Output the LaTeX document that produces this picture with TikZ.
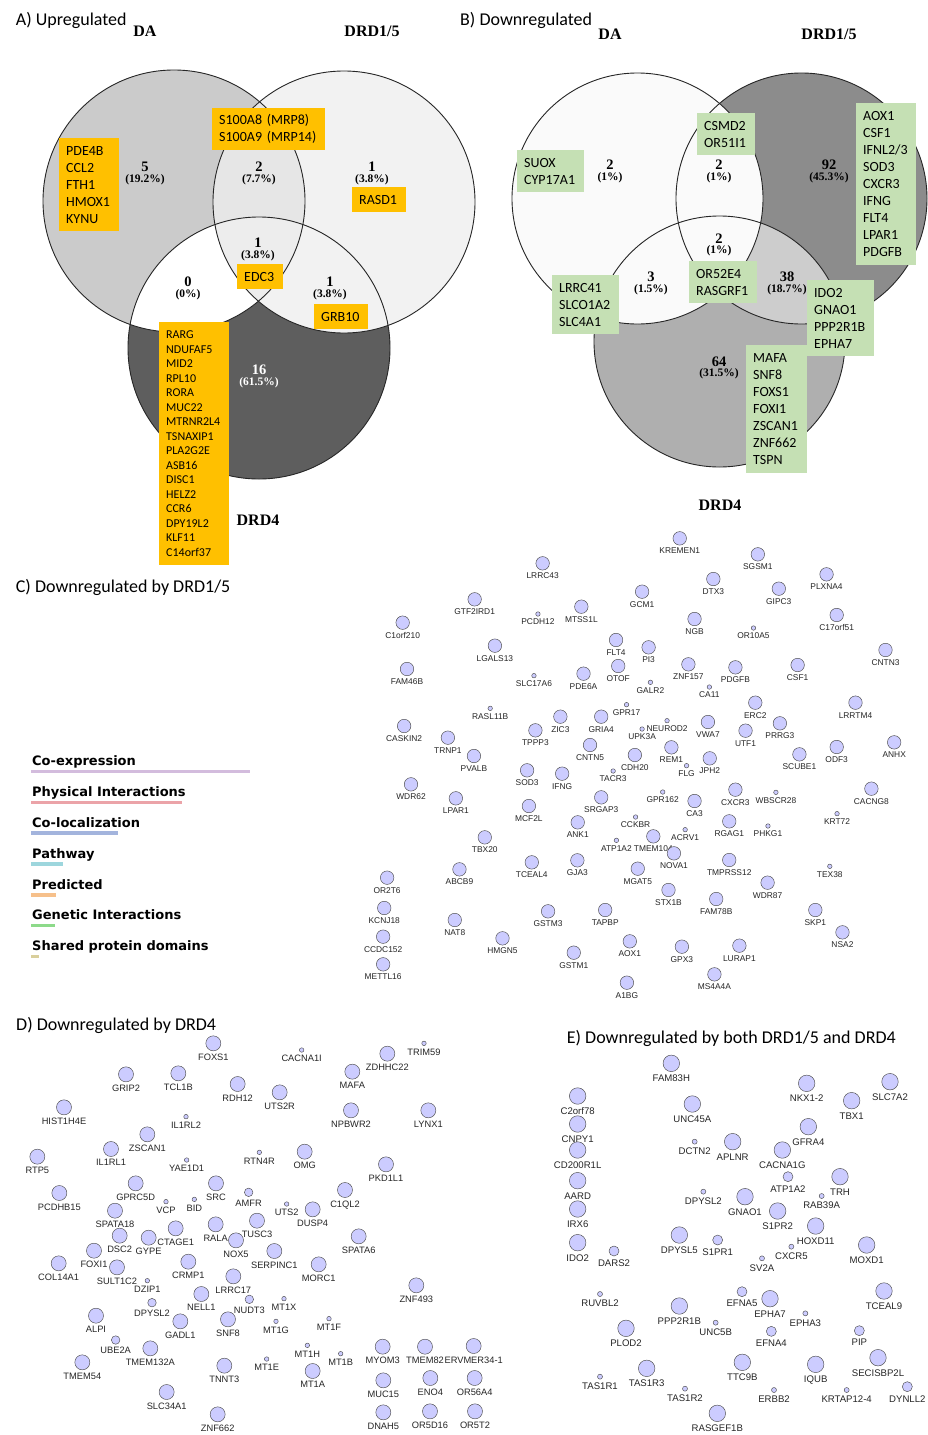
\documentclass[tikz,border=0pt]{standalone}
\usepackage{fontspec}
\setmainfont{Carlito}
\newfontfamily\tmsfont{Liberation Serif}
\newfontfamily\arlfont{Liberation Sans}
\newfontfamily\dvsfont{DejaVu Sans}
\definecolor{obox}{HTML}{FFC000}
\definecolor{gbox}{HTML}{C5E0B4}
\definecolor{nfill}{HTML}{CCCCFF}
\definecolor{aDA}{HTML}{CBCBCB}
\definecolor{aD15}{HTML}{F2F2F2}
\definecolor{aDA15}{HTML}{E6E6E6}
\definecolor{aTri}{HTML}{EDEDED}
\definecolor{aD4}{HTML}{5E5E5E}
\definecolor{bLt}{HTML}{FAFAFA}
\definecolor{bD15}{HTML}{8C8C8C}
\definecolor{bD4}{HTML}{AFAFAF}
\definecolor{bD154}{HTML}{CDCDCD}
\definecolor{lgA}{HTML}{D3BCDD}
\definecolor{lgB}{HTML}{EBA3A8}
\definecolor{lgC}{HTML}{A3B4DD}
\definecolor{lgD}{HTML}{9DD6DD}
\definecolor{lgE}{HTML}{F6C08B}
\definecolor{lgF}{HTML}{8DDA8A}
\definecolor{lgG}{HTML}{D9CF9C}
\tikzset{
 vcirc/.style={draw=black!85, line width=0.9pt},
 vnum/.style={font=\tmsfont\bfseries\fontsize{14.5}{16}\selectfont, inner sep=0pt},
 vpct/.style={font=\tmsfont\bfseries\fontsize{11.5}{13}\selectfont, inner sep=0pt},
 vhead/.style={font=\tmsfont\bfseries\fontsize{16}{18}\selectfont, inner sep=0pt},
 ptitle/.style={font=\fontsize{18}{21}\selectfont, inner sep=0pt, anchor=base west},
 gbx14/.style={font=\fontsize{14}{17}\selectfont, inner xsep=7pt, inner ysep=0pt, anchor=north west, align=left},
 gbx12/.style={font=\fontsize{12}{14.5}\selectfont, inner xsep=7pt, inner ysep=0pt, anchor=north west, align=left},
 lgtext/.style={font=\dvsfont\bfseries\fontsize{13}{15}\selectfont, inner sep=0pt, anchor=base west},
 gnode base/.style={circle, draw=black!70, line width=0.45pt, fill=nfill, inner sep=0pt},
 gcB/.style={gnode base, minimum size=13.5pt}, gcS/.style={gnode base, minimum size=4.5pt},
 gdB/.style={gnode base, minimum size=15pt}, gdM/.style={gnode base, minimum size=8.5pt}, gdS/.style={gnode base, minimum size=4.5pt},
 geB/.style={gnode base, minimum size=16.5pt}, geM/.style={gnode base, minimum size=10pt}, geS/.style={gnode base, minimum size=5pt},
 labc/.style={font=\arlfont\fontsize{8.4}{10}\selectfont, inner sep=0pt, label distance=2.4pt, text=black!85},
 labd/.style={font=\arlfont\fontsize{9.3}{11}\selectfont, inner sep=0pt, label distance=2.6pt, text=black!85},
 labe/.style={font=\arlfont\fontsize{9.6}{11}\selectfont, inner sep=0pt, label distance=3.2pt, text=black!85},
}
\newcommand\setzoom[4]{\def\zox{#1}\def\zoy{#2}\def\zsx{#3}\def\zsy{#4}}
\newcommand\gnode[5]{\pgfmathsetmacro\gnx{\zox+(#4)*\zsx}\pgfmathsetmacro\gny{\zoy+(#5)*\zsy}\node[g#1#2, label={[lab#1]below:#3}] (#1-#3) at (\gnx,\gny) {};}
\newcommand\genebox[8]{\node[#2, fill=#3, text width=#6pt, minimum height=#7pt] (#1) at (#4,#5) {#8};}
\begin{document}
\begin{tikzpicture}[x=1pt,y=-1pt]
\useasboundingbox (0,0) rectangle (927,1435);
\fill[white] (0,0) rectangle (927,1435);

% ---------------- Panel A ----------------
\coordinate (vA1) at (174,201);
\coordinate (vA2) at (344,202);
\coordinate (vA3) at (259,348);
\fill[aDA] (vA1) circle[radius=131pt];
\fill[aD15] (vA2) circle[radius=131pt];
\begin{scope}\clip (vA1) circle[radius=131pt]; \fill[aDA15] (vA2) circle[radius=131pt];\end{scope}
\fill[aD4] (vA3) circle[radius=131pt];
\begin{scope}\clip (vA3) circle[radius=131pt];
 \fill[white] (vA1) circle[radius=131pt];
 \fill[aD15] (vA2) circle[radius=131pt];
 \begin{scope}\clip (vA1) circle[radius=131pt]; \fill[aTri] (vA2) circle[radius=131pt];\end{scope}
\end{scope}
\draw[vcirc] (vA1) circle[radius=131pt];
\draw[vcirc] (vA2) circle[radius=131pt];
\draw[vcirc] (vA3) circle[radius=131pt];

\node[ptitle] (tA) at (15.7,25.7) {A) Upregulated};
\node[vhead] (hA1) at (145,31) {DA};
\node[vhead] (hA2) at (372,31) {DRD1/5};
\node[vhead] (hA3) at (258,520) {DRD4};

\node[vnum] (an1) at (145,167) {5};   \node[vpct] (ap1) at (145,180) {(19.2\%)};
\node[vnum] (an2) at (259,167) {2};   \node[vpct] (ap2) at (259,180) {(7.7\%)};
\node[vnum] (an3) at (372,167) {1};   \node[vpct] (ap3) at (372,180) {(3.8\%)};
\node[vnum] (an4) at (258,243) {1};   \node[vpct] (ap4) at (258,256) {(3.8\%)};
\node[vnum] (an5) at (188,282) {0};   \node[vpct] (ap5) at (188,295) {(0\%)};
\node[vnum] (an6) at (330,282) {1};   \node[vpct] (ap6) at (330,295) {(3.8\%)};
\node[vnum,text=white] (an7) at (259,370) {16}; \node[vpct,text=white] (ap7) at (259,383) {(61.5\%)};

\genebox{ab1}{gbx14}{obox}{59}{138}{46}{93}{PDE4B\\CCL2\\FTH1\\HMOX1\\KYNU}
\genebox{ab2}{gbx14}{obox}{212}{108}{99}{42}{S100A8 (MRP8)\\S100A9 (MRP14)}
\genebox{ab3}{gbx14}{obox}{352}{187}{40}{25}{RASD1}
\genebox{ab4}{gbx14}{obox}{237}{264}{32}{25}{EDC3}
\genebox{ab5}{gbx14}{obox}{314}{304}{40}{25}{GRB10}
\genebox{ab6}{gbx12}{obox}{159}{322}{56}{243}{RARG\\NDUFAF5\\MID2\\RPL10\\RORA\\MUC22\\MTRNR2L4\\TSNAXIP1\\PLA2G2E\\ASB16\\DISC1\\HELZ2\\CCR6\\DPY19L2\\KLF11\\C14orf37}

% ---------------- Panel B ----------------
\coordinate (vB1) at (637.5,198.5);
\coordinate (vB2) at (801.5,198.5);
\coordinate (vB3) at (719.5,341.5);
\fill[bLt] (vB1) circle[radius=125.5pt];
\fill[bD15] (vB2) circle[radius=125.5pt];
\begin{scope}\clip (vB1) circle[radius=125.5pt]; \fill[bLt] (vB2) circle[radius=125.5pt];\end{scope}
\fill[bD4] (vB3) circle[radius=125.5pt];
\begin{scope}\clip (vB3) circle[radius=125.5pt];
 \fill[bLt] (vB1) circle[radius=125.5pt];
 \fill[bD154] (vB2) circle[radius=125.5pt];
 \begin{scope}\clip (vB1) circle[radius=125.5pt]; \fill[bLt] (vB2) circle[radius=125.5pt];\end{scope}
\end{scope}
\draw[vcirc] (vB1) circle[radius=125.5pt];
\draw[vcirc] (vB2) circle[radius=125.5pt];
\draw[vcirc] (vB3) circle[radius=125.5pt];

\node[ptitle] (tB) at (460,25.7) {B) Downregulated};
\node[vhead] (hB1) at (610,34) {DA};
\node[vhead] (hB2) at (829,34) {DRD1/5};
\node[vhead] (hB3) at (720,505) {DRD4};

\node[vnum] (bn1) at (610,165) {2};  \node[vpct] (bp1) at (610,178) {(1\%)};
\node[vnum] (bn2) at (719,165) {2};  \node[vpct] (bp2) at (719,178) {(1\%)};
\node[vnum] (bn3) at (829,165) {92}; \node[vpct] (bp3) at (829,178) {(45.3\%)};
\node[vnum] (bn4) at (719,239) {2};  \node[vpct] (bp4) at (719,251) {(1\%)};
\node[vnum] (bn5) at (651,277) {3};  \node[vpct] (bp5) at (651,290) {(1.5\%)};
\node[vnum] (bn6) at (787,277) {38}; \node[vpct] (bp6) at (787,290) {(18.7\%)};
\node[vnum] (bn7) at (719,362) {64}; \node[vpct] (bp7) at (719,374) {(31.5\%)};

\genebox{bb1}{gbx14}{gbox}{517}{150}{53}{42}{SUOX\\CYP17A1}
\genebox{bb2}{gbx14}{gbox}{697}{113}{44}{42}{CSMD2\\OR51I1}
\genebox{bb3}{gbx14}{gbox}{856}{103}{46}{162}{AOX1\\CSF1\\IFNL2/3\\SOD3\\CXCR3\\IFNG\\FLT4\\LPAR1\\PDGFB}
\genebox{bb4}{gbx14}{gbox}{552}{275}{53}{59}{LRRC41\\SLCO1A2\\SLC4A1}
\genebox{bb5}{gbx14}{gbox}{689}{261}{54}{42}{OR52E4\\RASGRF1}
\genebox{bb6}{gbx14}{gbox}{807}{280}{53}{76}{IDO2\\GNAO1\\PPP2R1B\\EPHA7}
\genebox{bb7}{gbx14}{gbox}{746}{345}{47}{128}{MAFA\\SNF8\\FOXS1\\FOXI1\\ZSCAN1\\ZNF662\\TSPN}

% ---------------- Panel C ----------------
\node[ptitle] (tC) at (15.7,592.3) {C) Downregulated by DRD1/5};
\node[lgtext] (lg1) at (32,765.7) {Co-expression};
\node[lgtext] (lg2) at (32,796.6) {Physical Interactions};
\node[lgtext] (lg3) at (32,827.5) {Co-localization};
\node[lgtext] (lg4) at (32,858.3) {Pathway};
\node[lgtext] (lg5) at (32,889.1) {Predicted};
\node[lgtext] (lg6) at (32,919.9) {Genetic Interactions};
\node[lgtext] (lg7) at (32,950.7) {Shared protein domains};
\fill[lgA] (31,769.6) rectangle (250,773.2);
\fill[lgB] (31,800.5) rectangle (181.5,804.1);
\fill[lgC] (31,831.4) rectangle (117.5,835);
\fill[lgD] (31,862.2) rectangle (63,865.8);
\fill[lgE] (31,893) rectangle (56,896.6);
\fill[lgF] (31,923.8) rectangle (55,927.4);
\fill[lgG] (31,954.6) rectangle (39,958.2);

\setzoom{360}{520}{0.36166}{0.33333}
\gnode{c}{B}{KREMEN1}{884}{55}
\gnode{c}{B}{SGSM1}{1100}{103}
\gnode{c}{B}{LRRC43}{505}{130}
\gnode{c}{B}{PLXNA4}{1290}{163}
\gnode{c}{B}{DTX3}{977}{177}
\gnode{c}{B}{GCM1}{780}{215}
\gnode{c}{B}{GIPC3}{1158}{206}
\gnode{c}{B}{GTF2IRD1}{317}{238}
\gnode{c}{B}{MTSS1L}{612}{260}
\gnode{c}{S}{PCDH12}{492}{282}
\gnode{c}{B}{C1orf210}{118}{308}
\gnode{c}{B}{NGB}{925}{297}
\gnode{c}{S}{OR10A5}{1088}{324}
\gnode{c}{B}{C17orf51}{1318}{285}
\gnode{c}{B}{LGALS13}{373}{377}
\gnode{c}{B}{FLT4}{708}{360}
\gnode{c}{B}{PI3}{798}{382}
\gnode{c}{B}{CNTN3}{1453}{390}
\gnode{c}{B}{FAM46B}{130}{447}
\gnode{c}{S}{SLC17A6}{481}{467}
\gnode{c}{B}{OTOF}{714}{438}
\gnode{c}{B}{PDE6A}{618}{461}
\gnode{c}{B}{ZNF157}{908}{433}
\gnode{c}{B}{PDGFB}{1038}{442}
\gnode{c}{B}{CSF1}{1210}{435}
\gnode{c}{S}{GALR2}{803}{487}
\gnode{c}{S}{CA11}{966}{501}

\setzoom{360}{700}{0.36166}{0.33333}
\gnode{c}{S}{RASL11B}{360}{25}
\gnode{c}{S}{GPR17}{737}{14}
\gnode{c}{B}{ERC2}{1093}{8}
\gnode{c}{B}{LRRTM4}{1370}{8}
\gnode{c}{B}{ZIC3}{554}{50}
\gnode{c}{B}{GRIA4}{667}{50}
\gnode{c}{S}{NEUROD2}{849}{62}
\gnode{c}{S}{UPK3A}{780}{87}
\gnode{c}{B}{CASKIN2}{122}{78}
\gnode{c}{B}{VWA7}{962}{66}
\gnode{c}{B}{PRRG3}{1161}{70}
\gnode{c}{B}{UTF1}{1066}{92}
\gnode{c}{B}{TPPP3}{485}{91}
\gnode{c}{B}{TRNP1}{243}{113}
\gnode{c}{B}{ANHX}{1477}{127}
\gnode{c}{B}{CNTN5}{636}{135}
\gnode{c}{B}{REM1}{861}{142}
\gnode{c}{B}{ODF3}{1318}{141}
\gnode{c}{B}{PVALB}{315}{168}
\gnode{c}{B}{CDH20}{760}{165}
\gnode{c}{B}{SCUBE1}{1215}{163}
\gnode{c}{B}{JPH2}{967}{175}
\gnode{c}{S}{FLG}{903}{197}
\gnode{c}{B}{SOD3}{462}{211}
\gnode{c}{B}{IFNG}{559}{221}
\gnode{c}{S}{TACR3}{700}{213}
\gnode{c}{B}{WDR62}{141}{253}
\gnode{c}{B}{CXCR3}{1038}{269}
\gnode{c}{S}{WBSCR28}{1150}{277}
\gnode{c}{B}{CACNG8}{1414}{266}
\gnode{c}{S}{GPR162}{837}{276}
\gnode{c}{B}{CA3}{925}{303}
\gnode{c}{B}{LPAR1}{265}{295}
\gnode{c}{B}{SRGAP3}{667}{292}
\gnode{c}{B}{MCF2L}{467}{318}
\gnode{c}{S}{CCKBR}{762}{351}
\gnode{c}{S}{KRT72}{1319}{341}
\gnode{c}{B}{RGAG1}{1021}{364}
\gnode{c}{S}{PHKG1}{1128}{378}
\gnode{c}{B}{ANK1}{602}{367}
\gnode{c}{S}{ACRV1}{899}{389}
\gnode{c}{B}{TBX20}{345}{412}
\gnode{c}{B}{TMEM104}{811}{409}
\gnode{c}{S}{ATP1A2}{709}{421}
\gnode{c}{B}{NOVA1}{868}{460}
\gnode{c}{B}{GJA3}{601}{481}
\gnode{c}{B}{TCEAL4}{475}{487}
\gnode{c}{B}{TMPRSS12}{1021}{480}
\gnode{c}{B}{MGAT5}{768}{506}
\gnode{c}{B}{ABCB9}{275}{508}
\gnode{c}{S}{TEX38}{1299}{499}
\gnode{c}{B}{OR2T6}{75}{533}
\gnode{c}{B}{WDR87}{1127}{548}
\gnode{c}{B}{STX1B}{853}{570}
\gnode{c}{B}{FAM78B}{985}{597}
\gnode{c}{B}{KCNJ18}{67}{624}
\gnode{c}{B}{SKP1}{1259}{630}
\gnode{c}{B}{GSTM3}{520}{634}
\gnode{c}{B}{TAPBP}{678}{630}
\gnode{c}{B}{NAT8}{262}{660}
\gnode{c}{B}{NSA2}{1334}{697}
\gnode{c}{B}{CCDC152}{64}{710}
\gnode{c}{B}{HMGN5}{394}{715}
\gnode{c}{B}{AOX1}{746}{724}
\gnode{c}{B}{LURAP1}{1049}{737}
\gnode{c}{B}{GPX3}{890}{740}
\gnode{c}{B}{GSTM1}{591}{758}
\gnode{c}{B}{METTL16}{64}{793}
\gnode{c}{B}{MS4A4A}{980}{823}
\gnode{c}{B}{A1BG}{738}{848}

% ---------------- Panel D ----------------
\node[ptitle] (tD) at (16,1030.7) {D) Downregulated by DRD4};
\setzoom{0}{1010}{0.33333}{0.33333}
\gnode{d}{B}{FOXS1}{640}{100}
\gnode{d}{S}{CACNA1I}{905}{120}
\gnode{d}{S}{TRIM59}{1272}{100}
\gnode{d}{B}{ZDHHC22}{1162}{131}
\gnode{d}{B}{MAFA}{1057}{185}
\gnode{d}{B}{GRIP2}{378}{193}
\gnode{d}{B}{TCL1B}{535}{190}
\gnode{d}{B}{RDH12}{713}{222}
\gnode{d}{B}{UTS2R}{839}{247}
\gnode{d}{B}{HIST1H4E}{192}{292}
\gnode{d}{B}{NPBWR2}{1053}{301}
\gnode{d}{B}{LYNX1}{1285}{301}
\gnode{d}{S}{IL1RL2}{558}{320}
\gnode{d}{B}{ZSCAN1}{442}{373}
\gnode{d}{B}{IL1RL1}{333}{417}
\gnode{d}{B}{RTP5}{112}{440}
\gnode{d}{S}{RTN4R}{778}{427}
\gnode{d}{B}{OMG}{914}{425}
\gnode{d}{S}{YAE1D1}{560}{450}
\gnode{d}{B}{PKD1L1}{1158}{463}
\gnode{d}{B}{GPRC5D}{407}{520}
\gnode{d}{B}{SRC}{648}{520}
\gnode{d}{M}{AMFR}{746}{547}
\gnode{d}{B}{C1QL2}{1035}{540}
\gnode{d}{B}{PCDHB15}{178}{549}
\gnode{d}{S}{VCP}{498}{575}
\gnode{d}{S}{BID}{583}{568}
\setzoom{0}{1200}{0.33333}{0.33333}
\gnode{d}{S}{UTS2}{860}{12}
\gnode{d}{B}{SPATA18}{345}{32}
\gnode{d}{B}{DUSP4}{938}{28}
\gnode{d}{B}{RALA}{647}{73}
\gnode{d}{B}{TUSC3}{771}{62}
\gnode{d}{B}{NOX5}{708}{121}
\gnode{d}{B}{CTAGE1}{527}{85}
\gnode{d}{B}{DSC2}{359}{107}
\gnode{d}{B}{GYPE}{446}{113}
\gnode{d}{B}{SPATA6}{1076}{109}
\gnode{d}{B}{SERPINC1}{823}{153}
\gnode{d}{B}{FOXI1}{282}{152}
\gnode{d}{B}{COL14A1}{176}{190}
\gnode{d}{B}{SULT1C2}{351}{202}
\gnode{d}{B}{CRMP1}{565}{185}
\gnode{d}{B}{MORC1}{956}{193}
\gnode{d}{S}{DZIP1}{442}{242}
\gnode{d}{B}{LRRC17}{700}{229}
\gnode{d}{B}{ZNF493}{1249}{256}
\gnode{d}{B}{NELL1}{604}{282}
\gnode{d}{M}{NUDT3}{748}{298}
\gnode{d}{S}{MT1X}{852}{296}
\gnode{d}{M}{DPYSL2}{456}{308}
\gnode{d}{B}{ALPI}{288}{347}
\gnode{d}{B}{GADL1}{541}{364}
\gnode{d}{B}{SNF8}{684}{358}
\gnode{d}{S}{MT1G}{828}{364}
\gnode{d}{S}{MT1F}{987}{356}
\gnode{d}{M}{UBE2A}{347}{420}
\gnode{d}{B}{TMEM132A}{451}{445}
\gnode{d}{S}{MT1H}{922}{436}
\gnode{d}{S}{MT1B}{1022}{461}
\gnode{d}{B}{MYOM3}{1148}{440}
\gnode{d}{B}{TMEM82}{1275}{440}
\gnode{d}{B}{ERVMER34-1}{1421}{438}
\gnode{d}{B}{TMEM54}{247}{487}
\gnode{d}{B}{TNNT3}{673}{497}
\gnode{d}{S}{MT1E}{800}{477}
\gnode{d}{B}{MT1A}{938}{513}
\gnode{d}{B}{MUC15}{1150}{541}
\gnode{d}{B}{ENO4}{1291}{534}
\gnode{d}{B}{OR56A4}{1424}{534}
\gnode{d}{B}{SLC34A1}{500}{576}
\gnode{d}{B}{ZNF662}{653}{643}
\gnode{d}{B}{DNAH5}{1150}{637}
\gnode{d}{B}{OR5D16}{1290}{634}
\gnode{d}{B}{OR5T2}{1425}{634}

% ---------------- Panel E ----------------
\node[ptitle] (tE) at (566.7,1043.3) {E) Downregulated by both DRD1/5 and DRD4};
\setzoom{550}{1020}{0.33333}{0.33333}
\gnode{e}{B}{FAM83H}{364}{130}
\gnode{e}{B}{NKX1-2}{770}{190}
\gnode{e}{B}{SLC7A2}{1020}{185}
\gnode{e}{B}{TBX1}{905}{242}
\gnode{e}{B}{C2orf78}{83}{228}
\gnode{e}{B}{UNC45A}{427}{252}
\gnode{e}{B}{CNPY1}{83}{312}
\gnode{e}{B}{GFRA4}{775}{320}
\gnode{e}{S}{DCTN2}{434}{365}
\gnode{e}{B}{APLNR}{548}{365}
\gnode{e}{B}{CD200R1L}{83}{390}
\gnode{e}{B}{CACNA1G}{697}{390}
\gnode{e}{M}{ATP1A2}{714}{470}
\gnode{e}{B}{TRH}{870}{470}
\gnode{e}{B}{AARD}{83}{482}
\gnode{e}{S}{DPYSL2}{460}{515}
\gnode{e}{B}{GNAO1}{585}{530}
\gnode{e}{S}{RAB39A}{815}{528}
\gnode{e}{B}{S1PR2}{683}{573}
\gnode{e}{B}{IRX6}{83}{567}
\setzoom{550}{1220}{0.33333}{0.33333}
\gnode{e}{B}{HOXD11}{797}{18}
\gnode{e}{B}{DPYSL5}{388}{45}
\gnode{e}{B}{IDO2}{83}{68}
\gnode{e}{M}{DARS2}{192}{93}
\gnode{e}{M}{S1PR1}{503}{60}
\gnode{e}{S}{CXCR5}{724}{80}
\gnode{e}{S}{SV2A}{636}{115}
\gnode{e}{B}{MOXD1}{950}{75}
\gnode{e}{B}{TCEAL9}{1002}{213}
\gnode{e}{S}{RUVBL2}{150}{222}
\gnode{e}{M}{EFNA5}{576}{215}
\gnode{e}{B}{EPHA7}{660}{236}
\gnode{e}{S}{EPHA3}{766}{280}
\gnode{e}{B}{PPP2R1B}{388}{258}
\gnode{e}{S}{UNC5B}{497}{308}
\gnode{e}{M}{EFNA4}{664}{334}
\gnode{e}{M}{PIP}{928}{332}
\gnode{e}{B}{PLOD2}{228}{325}
\gnode{e}{B}{SECISBP2L}{984}{413}
\gnode{e}{B}{TTC9B}{577}{427}
\gnode{e}{B}{IQUB}{797}{433}
\gnode{e}{B}{TAS1R3}{290}{445}
\gnode{e}{S}{TAS1R1}{150}{470}
\gnode{e}{S}{TAS1R2}{405}{506}
\gnode{e}{S}{ERBB2}{672}{510}
\gnode{e}{S}{KRTAP12-4}{890}{510}
\gnode{e}{M}{DYNLL2}{1072}{500}
\gnode{e}{B}{RASGEF1B}{502}{580}
\end{tikzpicture}
\end{document}
